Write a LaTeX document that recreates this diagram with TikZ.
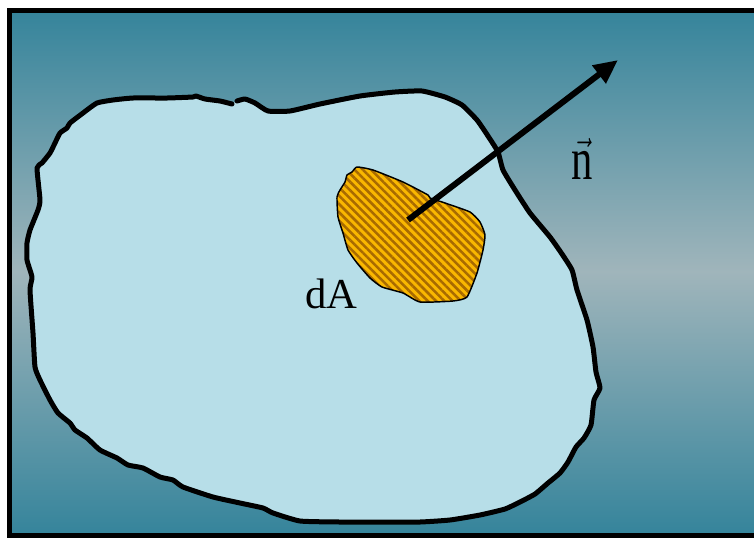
\documentclass[tikz,border=0pt]{standalone}
\usepackage{graphicx}
\usepackage{fontspec}
\setmainfont{Liberation Serif}
\usetikzlibrary{arrows.meta,patterns.meta}
\definecolor{seaedge}{HTML}{35849B}
\definecolor{seamid}{HTML}{A0B5BB}
\definecolor{blobfill}{HTML}{B7DEE8}
\definecolor{patchfill}{HTML}{F9B700}
\definecolor{patchline}{HTML}{A86A00}
\newcommand{\blobpath}{plot[smooth,tension=0.3] coordinates {
  (237,101) (245,99) (255,103) (268,111) (290,111) (320,104) (360,96)
  (395,92) (422,91) (445,97) (462,105) (477,120) (488,136) (498,152)
  (503,170) (515,190) (530,213) (550,237) (562,254) (572,270) (577,290)
  (587,320) (593,347) (596,372) (600,388) (594,400) (591,425) (584,438)
  (576,447) (568,462) (560,473) (548,483) (535,494) (520,502) (505,509)
  (480,515) (450,520) (420,522) (380,522) (340,522) (300,521) (273,513)
  (263,508) (240,503) (213,497) (183,487) (173,480) (160,477) (143,468)
  (128,465) (117,458) (100,450) (87,438) (75,430) (70,423) (58,413)
  (50,400) (40,380) (35,367) (33,333) (30,290) (32,277) (27,260)
  (27,243) (30,230) (38,210) (40,200) (37,168) (42,163) (50,153)
  (55,143) (60,133) (67,128) (70,123) (83,113) (97,103) (113,100)
  (133,98) (167,98) (193,97) (196,96) (205,99) (220,101) (232,104)}}
\newcommand{\patchpath}{plot[smooth cycle,tension=0.3] coordinates {
  (357,167) (373,170) (403,182) (428,195) (430,198) (445,203) (470,212)
  (480,222) (485,235) (483,250) (477,273) (467,297) (453,301) (420,302)
  (403,293) (382,287) (370,278) (357,263) (348,250) (343,233) (338,217)
  (337,197) (340,190) (345,182) (347,175) (352,172)}}

\begin{document}
\begin{tikzpicture}[x=0.75pt,y=-0.75pt,
  outline/.style={line width=3.75pt,line join=round,line cap=round},
  txt/.style={font=\fontsize{32}{37}\selectfont,inner sep=0pt},
  arr/.style={-{Triangle[length=18pt,width=16pt]},line width=4.5pt}
]
  \useasboundingbox (0,0) rectangle (754,537);
  \clip (0,0) rectangle (754,537);
  % background and frame
  \shade[top color=seaedge,bottom color=seamid] (10,10) rectangle (760,272);
  \shade[top color=seamid,bottom color=seaedge] (10,271) rectangle (760,535);
  \draw[line width=3.75pt] (9.5,10) rectangle (760,535);

  % surface
  \fill[blobfill] \blobpath -- cycle;
  \draw[outline] \blobpath;

  % surface element
  \draw[line width=1.1pt,preaction={fill=patchfill},
    pattern={Lines[angle=-45,distance=4.4pt,line width=1.9pt]},
    pattern color=patchline] \patchpath;

  % normal vector
  \coordinate (foot) at (408,220);
  \coordinate (tip) at (618,60);
  \draw[arr] (foot) -- (tip);

  \node[txt,anchor=base west] (dAlabel) at (305,308) {dA};
  \node[txt] (nlabel) at (582,159) {\scalebox{1}[1.4]{$\vec{\mbox{n}}$}};
\end{tikzpicture}
\end{document}
